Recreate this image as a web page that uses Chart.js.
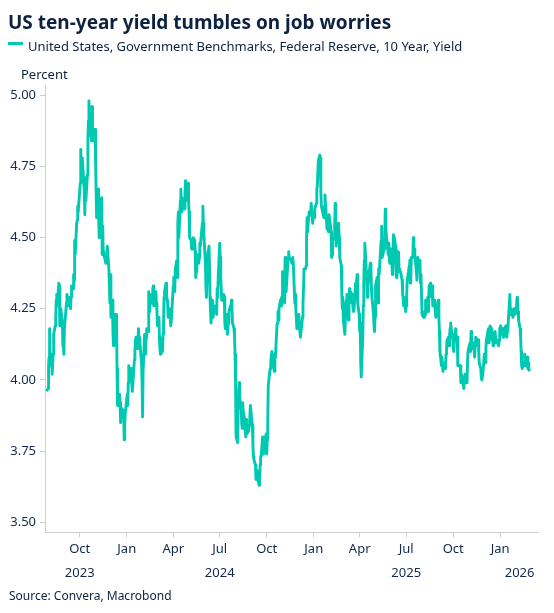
<!DOCTYPE html>
<html>
<head>
<meta charset="utf-8">
<script src="https://cdn.jsdelivr.net/npm/chart.js@4.4.1/dist/chart.umd.min.js"></script>
<style>
  body { margin: 0; width: 554px; height: 613px; background: #fff; position: relative; overflow: hidden;
         font-family: "Noto Sans", sans-serif; color: #0d2240; }
  #chart { position: absolute; left: 0; top: 0; }
  .txt { position: absolute; white-space: nowrap; }
  #title { left: 8px; top: 12px; font-size: 19px; line-height: 20px; font-weight: 700; }
  #legline { position: absolute; left: 8px; top: 42px; width: 15px; height: 3px; background: #00c9b2; }
  #legend { left: 28px; top: 38px; font-size: 13px; line-height: 16px; }
  #unit { left: 21px; top: 66px; font-size: 13px; line-height: 16px; }
  #source { left: 9px; top: 588px; font-size: 12px; line-height: 16px; }
</style>
</head>
<body>
<canvas id="chart" width="554" height="613"></canvas>
<div class="txt" id="title">US ten-year yield tumbles on job worries</div>
<div id="legline"></div>
<div class="txt" id="legend">United States, Government Benchmarks, Federal Reserve, 10 Year, Yield</div>
<div class="txt" id="unit">Percent</div>
<div class="txt" id="source">Source: Convera, Macrobond</div>
<script>
// US 10-year yield, business days
var months = ['2023-07','2023-08','2023-09','2023-10','2023-11','2023-12',
  '2024-01','2024-02','2024-03','2024-04','2024-05','2024-06','2024-07','2024-08','2024-09','2024-10','2024-11','2024-12',
  '2025-01','2025-02','2025-03','2025-04','2025-05','2025-06','2025-07','2025-08','2025-09','2025-10','2025-11','2025-12',
  '2026-01','2026-02'];

var days = [
  [28,31],
  [1,2,3,4,7,8,9,10,11,14,15,16,17,18,21,22,23,24,25,28,29,30,31],
  [1,5,6,7,8,11,12,13,14,15,18,19,20,21,22,25,26,27,28,29],
  [2,3,4,5,6,10,11,12,13,16,17,18,19,20,23,24,25,26,27,30,31],
  [1,2,3,6,7,8,9,10,13,14,15,16,17,20,21,22,24,27,28,29,30],
  [1,4,5,6,7,8,11,12,13,14,15,18,19,20,21,22,26,27,28,29],
  [2,3,4,5,8,9,10,11,12,16,17,18,19,22,23,24,25,26,29,30,31],
  [1,2,5,6,7,8,9,12,13,14,15,16,20,21,22,23,26,27,28,29],
  [1,4,5,6,7,8,11,12,13,14,15,18,19,20,21,22,25,26,27,28],
  [1,2,3,4,5,8,9,10,11,12,15,16,17,18,19,22,23,24,25,26,29,30],
  [1,2,3,6,7,8,9,10,13,14,15,16,17,20,21,22,23,24,28,29,30,31],
  [3,4,5,6,7,10,11,12,13,14,17,18,20,21,24,25,26,27,28],
  [1,2,3,5,8,9,10,11,12,15,16,17,18,19,22,23,24,25,26,29,30,31],
  [1,2,5,6,7,8,9,12,13,14,15,16,19,20,21,22,23,26,27,28,29,30],
  [3,4,5,6,9,10,11,12,13,16,17,18,19,20,23,24,25,26,27,30],
  [1,2,3,4,7,8,9,10,11,15,16,17,18,21,22,23,24,25,28,29,30,31],
  [1,4,5,6,7,8,12,13,14,15,18,19,20,21,22,25,26,27,29],
  [2,3,4,5,6,9,10,11,12,13,16,17,18,19,20,23,24,26,27,30,31],
  [2,3,6,7,8,10,13,14,15,16,17,21,22,23,24,27,28,29,30,31],
  [3,4,5,6,7,10,11,12,13,14,18,19,20,21,24,25,26,27,28],
  [3,4,5,6,7,10,11,12,13,14,17,18,19,20,21,24,25,26,27,28,31],
  [1,2,3,4,7,8,9,10,11,14,15,16,17,21,22,23,24,25,28,29,30],
  [1,2,5,6,7,8,9,12,13,14,15,16,19,20,21,22,23,27,28,29,30],
  [2,3,4,5,6,9,10,11,12,13,16,17,18,20,23,24,25,26,27,30],
  [1,2,3,7,8,9,10,11,14,15,16,17,18,21,22,23,24,25,28,29,30,31],
  [1,4,5,6,7,8,11,12,13,14,15,18,19,20,21,22,25,26,27,28,29],
  [2,3,4,5,8,9,10,11,12,15,16,17,18,19,22,23,24,25,26,29,30],
  [1,2,3,6,7,8,9,10,14,15,16,17,20,21,22,23,24,27,28,29,30,31],
  [3,4,5,6,7,10,12,13,14,17,18,19,20,21,24,25,26,28],
  [1,2,3,4,5,8,9,10,11,12,15,16,17,18,19,22,23,24,26,29,30,31],
  [2,5,6,7,8,9,12,13,14,15,16,20,21,22,23,26,27,28,29,30],
  [2,3,4,5,6,9,10,11,12,13,17,18,19,20,23,24,25,26,27]
];

var yields = [
  [3.96,3.97],
  [4.05,4.08,4.18,4.05,4.09,4.02,4.02,4.09,4.16,4.19,4.22,4.28,4.30,4.26,4.34,4.33,4.19,4.23,4.25,4.20,4.12,4.12,4.09],
  [4.18,4.27,4.30,4.27,4.26,4.29,4.29,4.25,4.29,4.33,4.32,4.37,4.35,4.49,4.44,4.55,4.56,4.61,4.59,4.59],
  [4.69,4.81,4.73,4.72,4.78,4.66,4.58,4.71,4.63,4.72,4.85,4.91,4.98,4.93,4.86,4.84,4.96,4.86,4.84,4.88,4.88],
  [4.77,4.67,4.57,4.67,4.58,4.50,4.63,4.61,4.64,4.44,4.54,4.45,4.44,4.42,4.41,4.42,4.47,4.39,4.34,4.27,4.37],
  [4.22,4.28,4.17,4.12,4.14,4.23,4.23,4.21,4.04,3.91,3.91,3.95,3.92,3.85,3.89,3.90,3.89,3.79,3.84,3.88],
  [3.95,3.91,3.99,4.05,4.01,4.02,4.04,3.98,3.96,4.07,4.10,4.14,4.15,4.11,4.14,4.18,4.14,4.15,4.08,4.06,3.99],
  [3.87,4.03,4.16,4.09,4.12,4.15,4.18,4.17,4.31,4.27,4.24,4.30,4.27,4.32,4.33,4.26,4.28,4.31,4.27,4.25],
  [4.19,4.22,4.15,4.11,4.09,4.09,4.10,4.16,4.19,4.29,4.31,4.34,4.30,4.28,4.27,4.22,4.25,4.24,4.19,4.20],
  [4.33,4.36,4.36,4.31,4.39,4.42,4.36,4.55,4.59,4.50,4.63,4.67,4.59,4.64,4.62,4.62,4.60,4.65,4.70,4.67,4.63,4.69],
  [4.63,4.59,4.50,4.49,4.46,4.49,4.46,4.50,4.49,4.45,4.36,4.38,4.42,4.44,4.41,4.43,4.48,4.47,4.55,4.61,4.55,4.51],
  [4.41,4.33,4.29,4.29,4.43,4.47,4.40,4.29,4.24,4.20,4.28,4.22,4.25,4.26,4.25,4.23,4.32,4.29,4.36],
  [4.48,4.43,4.36,4.28,4.28,4.30,4.29,4.20,4.18,4.23,4.16,4.16,4.20,4.24,4.26,4.25,4.28,4.25,4.20,4.18,4.15,4.09],
  [3.99,3.80,3.78,3.90,3.96,3.99,3.94,3.90,3.85,3.83,3.92,3.89,3.86,3.82,3.80,3.86,3.81,3.82,3.83,3.84,3.87,3.91],
  [3.84,3.77,3.73,3.72,3.70,3.65,3.65,3.68,3.66,3.63,3.65,3.70,3.73,3.73,3.80,3.74,3.79,3.80,3.75,3.81],
  [3.74,3.79,3.85,3.98,4.03,4.04,4.06,4.09,4.10,4.04,4.03,4.09,4.08,4.19,4.20,4.24,4.21,4.25,4.28,4.26,4.29,4.28],
  [4.38,4.28,4.27,4.43,4.33,4.31,4.43,4.45,4.43,4.43,4.42,4.41,4.41,4.43,4.41,4.27,4.30,4.25,4.18],
  [4.19,4.23,4.18,4.17,4.15,4.20,4.22,4.27,4.32,4.39,4.39,4.40,4.50,4.57,4.52,4.59,4.59,4.58,4.62,4.55,4.58],
  [4.57,4.60,4.62,4.67,4.68,4.77,4.79,4.78,4.66,4.61,4.61,4.57,4.61,4.65,4.62,4.53,4.55,4.55,4.52,4.58],
  [4.54,4.52,4.43,4.44,4.49,4.50,4.54,4.62,4.52,4.47,4.55,4.53,4.50,4.43,4.40,4.30,4.25,4.29,4.21],
  [4.16,4.22,4.27,4.28,4.30,4.21,4.28,4.32,4.27,4.31,4.30,4.28,4.25,4.24,4.25,4.34,4.31,4.35,4.37,4.27,4.23],
  [4.17,4.20,4.06,4.01,4.15,4.26,4.34,4.42,4.48,4.38,4.35,4.29,4.33,4.40,4.41,4.39,4.32,4.29,4.23,4.19,4.17],
  [4.22,4.33,4.36,4.30,4.27,4.39,4.37,4.46,4.49,4.54,4.43,4.43,4.46,4.48,4.60,4.54,4.51,4.44,4.48,4.42,4.41],
  [4.46,4.46,4.37,4.39,4.51,4.49,4.47,4.41,4.36,4.41,4.45,4.39,4.38,4.38,4.35,4.30,4.29,4.26,4.29,4.24],
  [4.26,4.30,4.35,4.40,4.42,4.34,4.35,4.43,4.43,4.50,4.46,4.46,4.44,4.38,4.35,4.40,4.43,4.40,4.42,4.34,4.37,4.37],
  [4.23,4.22,4.22,4.24,4.23,4.28,4.27,4.29,4.24,4.29,4.33,4.34,4.30,4.29,4.33,4.26,4.28,4.26,4.24,4.22,4.23],
  [4.28,4.22,4.17,4.10,4.05,4.08,4.05,4.03,4.06,4.05,4.04,4.09,4.11,4.14,4.15,4.12,4.16,4.18,4.20,4.15,4.16],
  [4.12,4.10,4.13,4.18,4.14,4.14,4.15,4.05,4.05,4.05,3.99,4.02,4.00,3.98,3.97,4.01,4.02,4.01,3.99,4.06,4.10,4.11],
  [4.13,4.10,4.17,4.11,4.11,4.13,4.08,4.12,4.15,4.14,4.12,4.14,4.10,4.06,4.04,4.01,4.00,4.02],
  [4.09,4.09,4.06,4.11,4.14,4.17,4.18,4.13,4.14,4.19,4.18,4.15,4.16,4.12,4.16,4.17,4.17,4.13,4.14,4.12,4.14,4.18],
  [4.19,4.16,4.18,4.15,4.17,4.18,4.19,4.17,4.15,4.17,4.18,4.30,4.23,4.25,4.24,4.22,4.24,4.25,4.24,4.23],
  [4.26,4.29,4.27,4.24,4.21,4.18,4.15,4.10,4.05,4.04,4.06,4.09,4.07,4.05,4.08,4.04,4.06,4.04,4.03]
];

// axis ticks and labels
var yTicks = [3.50, 3.75, 4.00, 4.25, 4.50, 4.75, 5.00];
var tickDates = ['2023-10-01','2024-01-01','2024-04-01','2024-07-01','2024-10-01','2025-01-01',
                 '2025-04-01','2025-07-01','2025-10-01','2026-01-01'];
var tickLabels = ['Oct','Jan','Apr','Jul','Oct','Jan','Apr','Jul','Oct','Jan'];
var yearLabels = ['2023','2024','2025','2026'];
var yearDates = ['2023-10-01','2024-07-01','2025-07-01','2026-02-08'];

var toDay = function(s) {
  return Date.UTC(+s.slice(0,4), +s.slice(5,7) - 1, +s.slice(8,10)) / 864e5;
};

var points = [];
months.forEach(function(m, i) {
  days[i].forEach(function(d, j) {
    points.push({ x: toDay(m + '-' + (d < 10 ? '0' + d : d)), y: yields[i][j] });
  });
});

var textColor = '#13294b';
var axisColor = '#cfcfcf';
var tickFont = { family: '"Noto Sans", sans-serif', size: 13 };

var yearRow = {
  id: 'yearRow',
  afterDraw: function(chart) {
    var ctx = chart.ctx, xs = chart.scales.x;
    ctx.save();
    ctx.font = '13px "Noto Sans", sans-serif';
    ctx.fillStyle = textColor;
    ctx.textAlign = 'center';
    ctx.textBaseline = 'middle';
    yearLabels.forEach(function(t, i) {
      ctx.fillText(t, xs.getPixelForValue(toDay(yearDates[i])), 573);
    });
    ctx.restore();
  }
};

new Chart(document.getElementById('chart'), {
  type: 'line',
  data: {
    datasets: [{
      label: 'United States, Government Benchmarks, Federal Reserve, 10 Year, Yield',
      data: points,
      borderColor: '#00c9b2',
      borderWidth: 2.9,
      pointRadius: 0,
      tension: 0,
      borderJoinStyle: 'round',
      fill: false
    }]
  },
  options: {
    responsive: false,
    animation: false,
    devicePixelRatio: 1,
    layout: { padding: { left: 0, right: 16, top: 85, bottom: 30.5 } },
    plugins: { legend: { display: false }, tooltip: { enabled: false } },
    scales: {
      x: {
        type: 'linear',
        min: toDay('2023-07-25'),
        max: toDay('2026-03-16'),
        afterBuildTicks: function(s) {
          s.ticks = tickDates.map(function(d) { return { value: toDay(d) }; });
        },
        afterFit: function(s) { s.height = 50; },
        ticks: {
          autoSkip: false, maxRotation: 0, padding: 4,
          color: textColor, font: tickFont,
          callback: function(v, i) { return tickLabels[i]; }
        },
        grid: { drawOnChartArea: false, drawTicks: true, tickLength: 5, color: axisColor },
        border: { display: true, color: axisColor }
      },
      y: {
        min: 3.464,
        max: 5.036,
        afterBuildTicks: function(s) {
          s.ticks = yTicks.map(function(v) { return { value: v }; });
        },
        afterFit: function(s) { s.width = 45; },
        ticks: {
          padding: 4, color: textColor, font: tickFont,
          callback: function(v) { return v.toFixed(2); }
        },
        grid: { drawOnChartArea: false, drawTicks: true, tickLength: 5, color: axisColor },
        border: { display: true, color: axisColor }
      }
    }
  },
  plugins: [yearRow]
});
</script>
</body>
</html>
